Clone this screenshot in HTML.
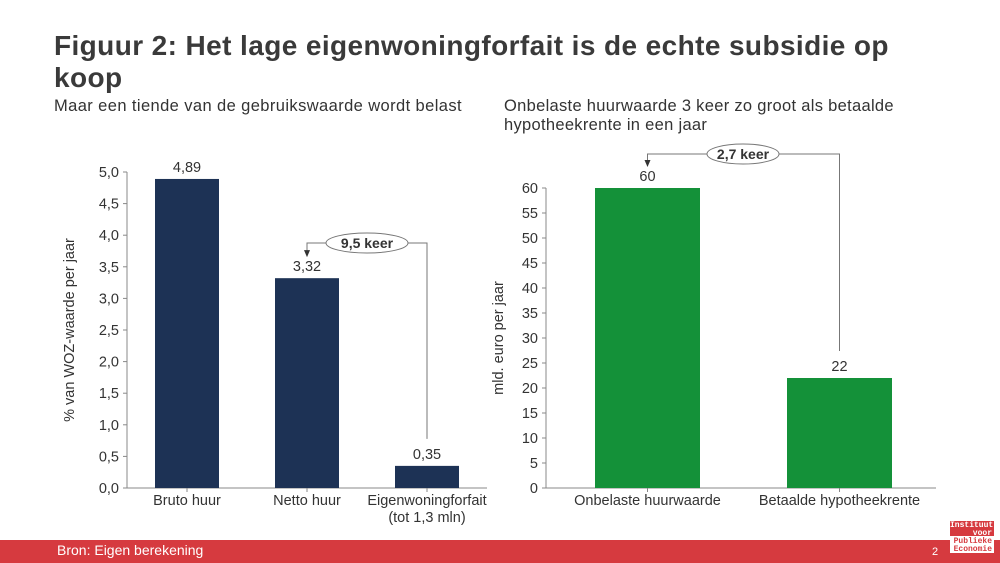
<!DOCTYPE html>
<html><head><meta charset="utf-8"><style>
body{margin:0;width:1000px;height:563px;overflow:hidden;background:#fff;font-family:"Liberation Sans",sans-serif;position:relative}
.t{position:absolute;color:#333}
</style></head><body>
<div class="t" style="left:54px;top:30px;font-size:28px;font-weight:bold;line-height:32px;width:870px;letter-spacing:0.4px;color:#3a3a3a">Figuur 2: Het lage eigenwoningforfait is de echte subsidie op koop</div>
<div class="t" style="left:54px;top:97px;font-size:16.5px;letter-spacing:0.4px">Maar een tiende van de gebruikswaarde wordt belast</div>
<div class="t" style="left:504px;top:97px;font-size:16.5px;letter-spacing:0.3px;line-height:19px;width:440px">Onbelaste huurwaarde 3 keer zo groot als betaalde hypotheekrente in een jaar</div>
<svg id="c" width="1000" height="563" style="position:absolute;left:0;top:0"></svg>
<div style="position:absolute;left:0;top:540px;width:1000px;height:23px;background:#d63a3f"></div>
<div class="t" style="left:57px;top:542px;font-size:14px;color:#fff">Bron: Eigen berekening</div>
<div class="t" style="left:932px;top:546px;font-size:11px;color:#fff">2</div>
<div style="position:absolute;left:950px;top:521px;width:44px;height:32px;font-family:'Liberation Mono',monospace;font-size:8px;line-height:7.5px;text-align:right;font-weight:bold">
<div style="background:#d63a3f;color:#fff;height:15px;padding:1px 2px 0 0;box-sizing:border-box">Instituut<br>voor</div>
<div style="background:#fff;color:#d63a3f;height:17px;padding:2px 2px 0 0;box-sizing:border-box">Publieke<br>Economie</div></div>
<script>
const leftCats=["Bruto huur","Netto huur","Eigenwoningforfait"];
const leftVals=[4.89,3.32,0.35];
const leftLabels=["4,89","3,32","0,35"];
const leftTicks=[0,0.5,1,1.5,2,2.5,3,3.5,4,4.5,5];
const rightCats=["Onbelaste huurwaarde","Betaalde hypotheekrente"];
const rightVals=[60,22];
const rightLabels=["60","22"];
const rightTicks=[0,5,10,15,20,25,30,35,40,45,50,55,60];
const svg=document.getElementById('c');const NS='http://www.w3.org/2000/svg';
function el(t,a,txt){const e=document.createElementNS(NS,t);for(const k in a)e.setAttribute(k,a[k]);if(txt!==undefined)e.textContent=txt;svg.appendChild(e);return e;}
function chart(o){
 const y=v=>o.y0-(v/o.max)*(o.y0-o.yTop);
 let e=el('line',{x1:o.ax,x2:o.ax,y1:o.yTop,y2:o.y0,stroke:'#888'});
 
 e=el('line',{x1:o.ax,x2:o.lineEnd,y1:o.y0,y2:o.y0,stroke:'#888'});
 
 o.ticks.forEach(t=>{
  el('line',{x1:o.ax-4,x2:o.ax,y1:y(t),y2:y(t),stroke:'#888'});
  e=el('text',{x:o.ax-8,y:y(t)+5,'text-anchor':'end','font-size':14.5,fill:'#333'},o.fmt(t));
  
 });
 const n=o.cats.length,step=o.step;
 o.cats.forEach((c,i)=>{
  const cx=o.x0+step*(i+0.5);
  e=el('rect',{x:cx-o.bw/2,y:y(o.vals[i]),width:o.bw,height:o.y0-y(o.vals[i]),fill:o.color});
  
  e=el('text',{x:cx,y:y(o.vals[i])-7,'text-anchor':'middle','font-size':14.5,fill:'#333'},o.labels[i]);
  
  e=el('text',{x:cx,y:o.y0+17,'text-anchor':'middle','font-size':14.5,fill:'#333'},c);
  
  el('line',{x1:cx,x2:cx,y1:o.y0,y2:o.y0+4,stroke:'#888'});
 });
 e=el('text',{transform:`translate(${o.tx},${(o.yTop+o.y0)/2}) rotate(-90)`,'text-anchor':'middle','font-size':14.5,fill:'#333'},o.title);
 
 const a=o.ann;const x1=o.x0+step*(a.from+0.5),x2=o.x0+step*(a.to+0.5);
 const ay=a.y;
 el('polyline',{points:`${x1},${y(o.vals[a.from])-22} ${x1},${ay} ${x2},${ay} ${x2},${y(o.vals[a.to])-27}`,fill:'none',stroke:'#777'});
 el('path',{d:`M${x1-3},${y(o.vals[a.from])-28} L${x1+3},${y(o.vals[a.from])-28} L${x1},${y(o.vals[a.from])-21}Z`,fill:'#333'});
 el('ellipse',{cx:a.cx,cy:ay,rx:a.rx,ry:10,fill:'#fff',stroke:'#777'});
 e=el('text',{x:a.cx,y:ay+5,'text-anchor':'middle','font-size':14,'font-weight':'bold',fill:'#333'},a.text);
 
}
chart({id:'left',cats:leftCats,vals:leftVals,labels:leftLabels,ticks:leftTicks,max:5,ax:127,lineEnd:487,x0:127,step:120,y0:488,yTop:172,bw:64,color:'#1d3255',fmt:t=>t.toFixed(1).replace('.',','),tx:74,title:'% van WOZ-waarde per jaar',ann:{from:1,to:2,y:243,cx:367,rx:41,text:'9,5 keer'}});
const t2=document.createElementNS(NS,'text');t2.setAttribute('x',427);t2.setAttribute('y',522);t2.setAttribute('text-anchor','middle');t2.setAttribute('font-size',14.5);t2.setAttribute('fill','#333');t2.textContent='(tot 1,3 mln)';


svg.appendChild(t2);
chart({id:'right',cats:rightCats,vals:rightVals,labels:rightLabels,ticks:rightTicks,max:60,ax:546,lineEnd:936,x0:551.5,step:192,y0:488,yTop:188,bw:105,color:'#149139',fmt:t=>String(t),tx:503,title:'mld. euro per jaar',ann:{from:0,to:1,y:154,cx:743,rx:36,text:'2,7 keer'}});
</script>
</body></html>
